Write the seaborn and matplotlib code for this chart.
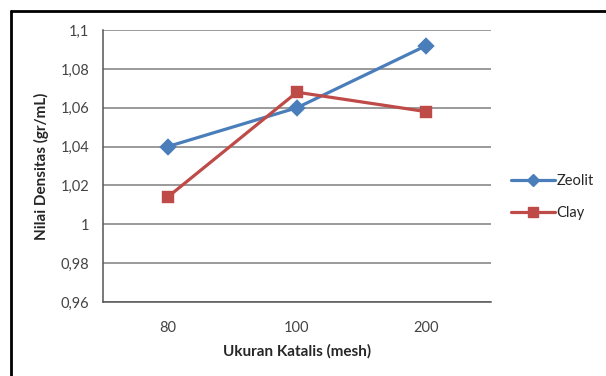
import numpy as np
import pandas as pd
import seaborn as sns
import matplotlib.pyplot as plt
from matplotlib.lines import Line2D
from matplotlib.ticker import FixedLocator, FuncFormatter

# data
mesh_sizes = ['80', '100', '200']
zeolit = [1.040, 1.060, 1.092]
clay = [1.014, 1.068, 1.058]
y_ticks = [0.96, 0.98, 1.00, 1.02, 1.04, 1.06, 1.08, 1.10]

BLUE = '#4A7EBB'
RED = '#BE4B48'
FS = 10.5
FS_LABEL = 11

df = pd.DataFrame({
    'mesh': mesh_sizes * 2,
    'densitas': zeolit + clay,
    'katalis': ['Zeolit'] * 3 + ['Clay'] * 3,
})

sns.set_style('white')
plt.rcParams['font.family'] = ['Lato', 'DejaVu Sans']

fig = plt.figure(figsize=(6.06, 3.76), dpi=100)
ax = fig.add_axes([0.170, 0.197, 0.640, 0.723])

sns.pointplot(
    data=df, x='mesh', y='densitas', hue='katalis',
    order=mesh_sizes, hue_order=['Zeolit', 'Clay'],
    palette={'Zeolit': BLUE, 'Clay': RED},
    markers=['D', 's'], linestyles=['-', '-'],
    markersize=7, linewidth=2.3, errorbar=None, ax=ax,
)
ax.get_legend().remove()

ax.set_xlim(-0.5, len(mesh_sizes) - 0.5)
ax.set_ylim(y_ticks[0], y_ticks[-1])
ax.set_yticks(y_ticks)
ax.yaxis.set_major_formatter(FuncFormatter(
    lambda v, p: (f'{v:.2f}'.rstrip('0').rstrip('.')).replace('.', ',')))
ax.grid(axis='y', color='#7f7f7f', linewidth=1.1)
ax.set_axisbelow(True)

ax.xaxis.set_minor_locator(FixedLocator(np.arange(0.5, len(mesh_sizes), 1.0)))
ax.tick_params(axis='x', which='major', length=0, pad=14, labelsize=FS, colors='#444444')
ax.tick_params(axis='x', which='minor', length=4, width=1, color='#555555', direction='out')
ax.tick_params(axis='y', length=4, width=1, color='#555555', direction='out', pad=6,
               labelsize=FS, colors='#444444')

for s in ['top', 'right']:
    ax.spines[s].set_visible(False)
for s in ['left', 'bottom']:
    ax.spines[s].set_color('#555555')
    ax.spines[s].set_linewidth(1.1)

ax.set_xlabel('Ukuran Katalis (mesh)', fontsize=FS_LABEL, fontweight='bold', labelpad=6)
ax.set_ylabel('Nilai Densitas (gr/mL)', fontsize=FS_LABEL, fontweight='bold', labelpad=8)

handles = [
    Line2D([], [], color=BLUE, marker='D', markersize=6, linewidth=2.3),
    Line2D([], [], color=RED, marker='s', markersize=7, linewidth=2.3),
]
fig.legend(handles, ['Zeolit', 'Clay'], loc='center left',
           bbox_to_anchor=(0.822, 0.476), frameon=False, fontsize=FS,
           handlelength=3.0, handletextpad=0.1, labelspacing=1.2)

# outer chart frame (cropped on right/bottom in the reference)
fig.add_artist(Line2D([0.018, 1.0], [0.972, 0.972], color='black', linewidth=2,
                      transform=fig.transFigure))
fig.add_artist(Line2D([0.018, 0.018], [0.0, 0.972], color='black', linewidth=2,
                      transform=fig.transFigure))

fig.savefig('out.png', dpi=100)
